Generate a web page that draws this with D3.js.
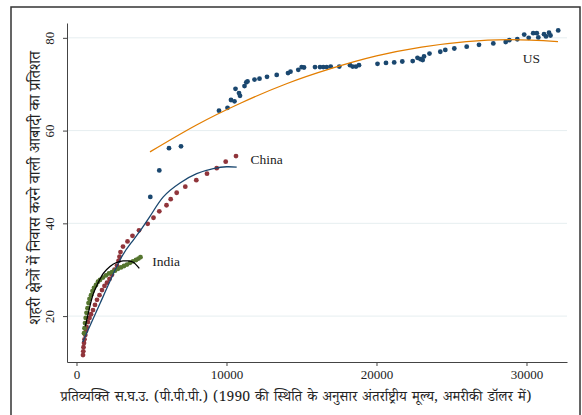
<!DOCTYPE html>
<html>
<head>
<meta charset="utf-8">
<script src="https://cdn.jsdelivr.net/npm/d3@7"></script>
<style>
  body { margin: 0; background: #fff; }
  svg { display: block; }
  .tick text { font-family: "Liberation Serif", "DejaVu Serif", serif; font-size: 13px; fill: #222; }
  .deva { font-family: "Noto Serif Devanagari", "Noto Sans Devanagari", "Lohit Devanagari", "Mangal", serif; fill: #222; }
  .lbl { font-family: "Liberation Serif", "DejaVu Serif", serif; font-size: 13.5px; fill: #222; }
</style>
</head>
<body>
<div id="chart"></div>
<script>
// Scatter data: [GDP per capita, urban share %]
const usPoints = [
  [4920, 45.7], [5520, 51.4], [6167, 56.2], [6967, 56.6], [9500, 64.3], [10067, 64.9],
  [10300, 66.6], [10533, 66.3], [10600, 69.0], [10833, 68.1], [10900, 67.5], [11200, 69.6],
  [11320, 70.4], [11400, 70.6], [11867, 71.0], [12200, 71.2], [12700, 71.6], [13347, 72.0],
  [14100, 72.4], [14267, 72.7], [14787, 73.1], [15013, 73.7], [15167, 73.6], [15900, 73.7],
  [16233, 73.7], [16453, 73.7], [16680, 73.7], [16947, 73.8], [17520, 73.8], [18233, 74.1],
  [18413, 73.8], [18633, 73.8], [18833, 74.1], [20067, 74.4], [20633, 74.6], [21180, 74.7],
  [21720, 74.9], [22413, 75.0], [22733, 75.7], [22933, 75.4], [23080, 75.2], [23167, 76.0],
  [23533, 76.6], [24253, 77.0], [24587, 77.4], [25187, 77.7], [26013, 78.1], [26833, 78.5],
  [27787, 78.8], [28613, 79.1], [28853, 79.5], [29387, 79.7], [29847, 80.7], [30147, 80.0],
  [30447, 81.0], [30687, 81.0], [30787, 80.1], [31167, 80.8], [31300, 80.3], [31500, 81.1],
  [31600, 80.5], [32113, 81.6]
];
const chinaPoints = [
  [433, 11.6], [453, 12.4], [467, 13.3], [500, 14.2], [533, 15.0], [587, 15.9], [633, 16.8],
  [680, 17.6], [767, 18.7], [867, 19.6], [967, 20.4], [1100, 21.3], [1233, 22.4], [1367, 23.5],
  [1533, 24.5], [1700, 25.6], [1867, 26.5], [2033, 27.2], [2200, 28.0], [2367, 28.9],
  [2533, 30.0], [2700, 30.9], [2800, 31.9], [2867, 32.8], [2933, 33.8], [3100, 35.0],
  [3400, 36.1], [3733, 37.3], [4167, 38.5], [4747, 39.9], [5133, 41.2], [5520, 42.6],
  [6000, 43.9], [6280, 45.2], [6680, 46.6], [7253, 47.9], [7987, 49.3], [8700, 50.7],
  [9347, 51.9], [9947, 53.3], [10633, 54.5]
];
const indiaPoints = [
  [500, 16.3], [533, 17.4], [567, 18.5], [613, 19.6], [667, 20.7], [733, 21.7], [800, 22.8],
  [867, 23.7], [967, 24.5], [1067, 25.4], [1167, 26.1], [1300, 26.7], [1433, 27.4], [1567, 27.8],
  [1767, 28.3], [1967, 28.8], [2167, 29.2], [2367, 29.5], [2567, 29.8], [2767, 30.2],
  [2967, 30.5], [3167, 30.8], [3367, 31.1], [3567, 31.5], [3767, 31.8], [3967, 32.1],
  [4133, 32.4], [4267, 32.7]
];

// Quadratic fit curves
const usFit = [
  [4900, 55.4], [8000, 61.2], [11000, 66.0], [14000, 70.1], [17000, 73.4], [20000, 76.1],
  [23000, 78.0], [26000, 79.2], [29000, 79.6], [32100, 79.2]
];
const chinaFit = [
  [413, 14.4], [1567, 22.7], [2900, 32.1], [3787, 36.4], [4900, 41.5], [5787, 45.7],
  [6900, 48.7], [8013, 50.7], [9120, 51.8], [10013, 52.2], [10680, 52.1]
];
const indiaFit = [
  [587, 17.8], [833, 21.3], [1120, 24.8], [1433, 27.1], [1787, 29.2], [2233, 30.7],
  [2633, 31.5], [3100, 31.9], [3433, 31.9], [3787, 31.6], [4187, 30.3]
];

const xTicks = [0, 10000, 20000, 30000];
const yTicks = [20, 40, 60, 80];
const xTitle = 'प्रतिव्यक्ति स.घ.उ. (पी.पी.पी.) (1990 की स्थिति के अनुसार अंतर्राष्ट्रीय मूल्य, अमरीकी डॉलर में)';
const yTitle = 'शहरी क्षेत्रों में निवास करने वाली आबादी का प्रतिशत';
const seriesLabels = [
  { text: 'US', at: [29750, 74.6] },
  { text: 'China', at: [11600, 52.8] },
  { text: 'India', at: [5050, 30.8] }
];

const W = 582, H = 415;
const svg = d3.select('#chart').append('svg').attr('width', W).attr('height', H);

// outer frame
svg.append('rect')
  .attr('x', 11).attr('y', 7).attr('width', 569).attr('height', 420)
  .attr('fill', 'none').attr('stroke', '#333').attr('stroke-width', 1.5);

const x = d3.scaleLinear().domain([-633, 32700]).range([67, 567]);
const y = d3.scaleLinear().domain([10.1, 83.2]).range([362, 23]);

// gridlines
svg.append('g').selectAll('line').data(yTicks).enter().append('line')
  .attr('x1', 67).attr('x2', 567)
  .attr('y1', d => y(d)).attr('y2', d => y(d))
  .attr('stroke', '#e6eef0').attr('stroke-width', 1);

// axes
const xAxis = svg.append('g')
  .attr('transform', `translate(0,${y.range()[0]})`)
  .call(d3.axisBottom(x).tickValues(xTicks).tickFormat(d3.format('d')).tickSize(4).tickPadding(4).tickSizeOuter(0));
xAxis.select('.domain').attr('stroke', '#444');
xAxis.selectAll('.tick line').attr('stroke', '#444');

const yAxis = svg.append('g')
  .attr('transform', `translate(${x.range()[0]},0)`)
  .call(d3.axisLeft(y).tickValues(yTicks).tickSize(4).tickSizeOuter(0));
yAxis.select('.domain').attr('stroke', '#444');
yAxis.selectAll('.tick line').attr('stroke', '#444');
yAxis.selectAll('.tick text')
  .attr('x', null).attr('dy', null)
  .attr('transform', 'translate(-13,0) rotate(-90)')
  .attr('text-anchor', 'middle');

// axis titles
svg.append('text').attr('class', 'deva')
  .attr('x', 296).attr('y', 401)
  .attr('text-anchor', 'middle')
  .style('font-size', '14px')
  .style('word-spacing', '1.6px')
  .text(xTitle);
svg.append('text').attr('class', 'deva')
  .attr('transform', 'translate(40,188) rotate(-90)')
  .attr('text-anchor', 'middle')
  .style('font-size', '16px')
  .text(yTitle);

// scatter
function dots(data, color) {
  svg.append('g').selectAll('circle').data(data).enter().append('circle')
    .attr('cx', d => x(d[0])).attr('cy', d => y(d[1]))
    .attr('r', 2.4).attr('fill', color);
}
dots(usPoints, '#1a476f');
dots(chinaPoints, '#90353b');
dots(indiaPoints, '#55752f');

// fitted lines
const line = d3.line().x(d => x(d[0])).y(d => y(d[1])).curve(d3.curveNatural);
function fit(data, color) {
  svg.append('path').datum(data)
    .attr('d', line).attr('fill', 'none')
    .attr('stroke', color).attr('stroke-width', 1.3);
}
fit(usFit, '#e37e00');
fit(chinaFit, '#1a476f');
fit(indiaFit, '#000');

// series labels
svg.append('g').selectAll('text').data(seriesLabels).enter().append('text')
  .attr('class', 'lbl')
  .attr('x', d => x(d.at[0])).attr('y', d => y(d.at[1]))
  .text(d => d.text);
</script>
</body>
</html>
